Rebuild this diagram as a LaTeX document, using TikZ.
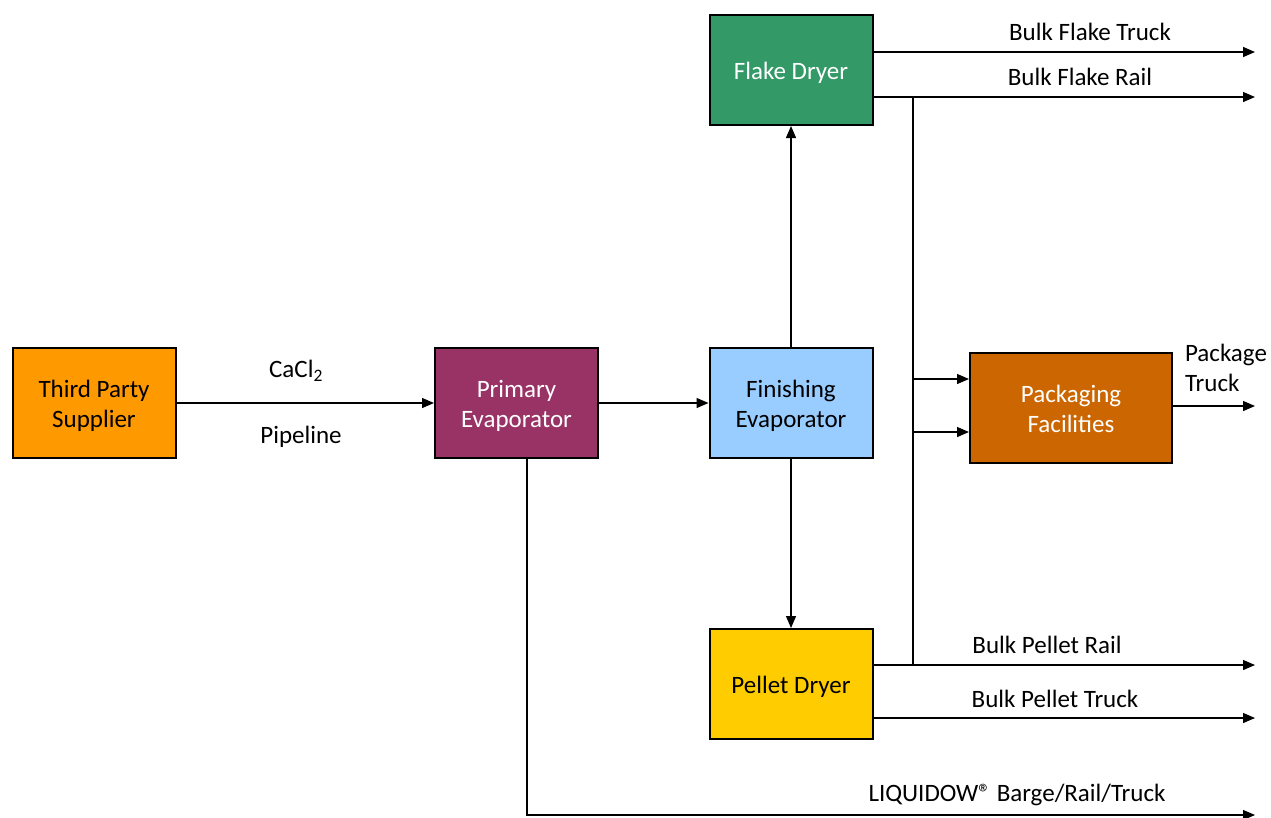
\documentclass[tikz,border=0pt]{standalone}
\usepackage{fontspec}
\setmainfont{Carlito}
\usetikzlibrary{arrows.meta}
\definecolor{cSup}{HTML}{FF9900}
\definecolor{cPri}{HTML}{993366}
\definecolor{cFin}{HTML}{99CCFF}
\definecolor{cFla}{HTML}{339966}
\definecolor{cPel}{HTML}{FFCC00}
\definecolor{cPak}{HTML}{CC6600}
\newcommand{\bt}[1]{\raisebox{-3pt}[\height][\depth]{\begin{tabular}{@{}c@{}}#1\end{tabular}}}
\begin{document}
\begin{tikzpicture}[x=1pt,y=-1pt,
  box/.style={draw=black,line width=2pt,minimum width=163pt,minimum height=110pt,font=\fontsize{25}{30}\selectfont,inner sep=0pt},
  flow/.style={line width=1.3pt,-{Triangle[length=12pt,width=10pt]}},
  lbl/.style={font=\fontsize{25}{30}\selectfont,inner sep=0pt,align=left},
  wire/.style={line width=1.3pt}]
\useasboundingbox (0,0) rectangle (1271,817);
\node[box,fill=cSup] (sup) at (94,403) {\bt{Third Party\\Supplier}};
\node[box,fill=cPri,text=white] (pri) at (516.5,403) {\bt{Primary\\Evaporator}};
\node[box,fill=cFin] (fin) at (791,403) {\bt{Finishing\\Evaporator}};
\node[box,fill=cFla,text=white] (fla) at (791,70) {\bt{Flake Dryer}};
\node[box,fill=cPel] (pel) at (791,684) {\bt{Pellet Dryer}};
\node[box,fill=cPak,text=white,minimum width=202pt] (pak) at (1071,408) {\bt{Packaging\\Facilities}};
% coordinates
\coordinate (e1) at (1255,52);
\coordinate (e2) at (1255,97);
\coordinate (e3) at (1255,665);
\coordinate (e4) at (1255,718);
\coordinate (e5) at (1255,815);
\coordinate (e6) at (1255,406);
\coordinate (j1) at (913,97);
\coordinate (j2) at (913,665);
\coordinate (p1) at (913,379);
\coordinate (p2) at (913,432);
\coordinate (l1) at (527,815);
% flows
\draw[flow] (sup.east) -- (pri.west);
\draw[flow] (pri.east) -- (fin.west);
\draw[flow] (fin.north) -- (fla.south);
\draw[flow] (fin.south) -- (pel.north);
\draw[flow] (fla.east |- e1) -- (e1);
\draw[flow] (fla.east |- e2) -- (e2);
\draw[flow] (pel.east |- e3) -- (e3);
\draw[flow] (pel.east |- e4) -- (e4);
\draw[flow] (pak.east |- e6) -- (e6);
\draw[wire] (j1) -- (j2);
\draw[flow] (p1) -- (pak.west |- p1);
\draw[flow] (p2) -- (pak.west |- p2);
\draw[flow] (pri.south -| l1) -- (l1) -- (e5);
% labels
\node[lbl] (tCa) at (296,371) {CaCl\textsubscript{2}};
\node[lbl] (tPi) at (301,437) {Pipeline};
\node[lbl] (tBFT) at (1090,32) {Bulk Flake Truck};
\node[lbl] (tBFR) at (1080,77) {Bulk Flake Rail};
\node[lbl] (tBPR) at (1047,645) {Bulk Pellet Rail};
\node[lbl] (tBPT) at (1055,699) {Bulk Pellet Truck};
\node[lbl] (tLiq) at (1017,795) {LIQUIDOW® Barge/Rail/Truck};
\node[lbl] (tPT) at (1226,368) {Package\\Truck};
\end{tikzpicture}
\end{document}
